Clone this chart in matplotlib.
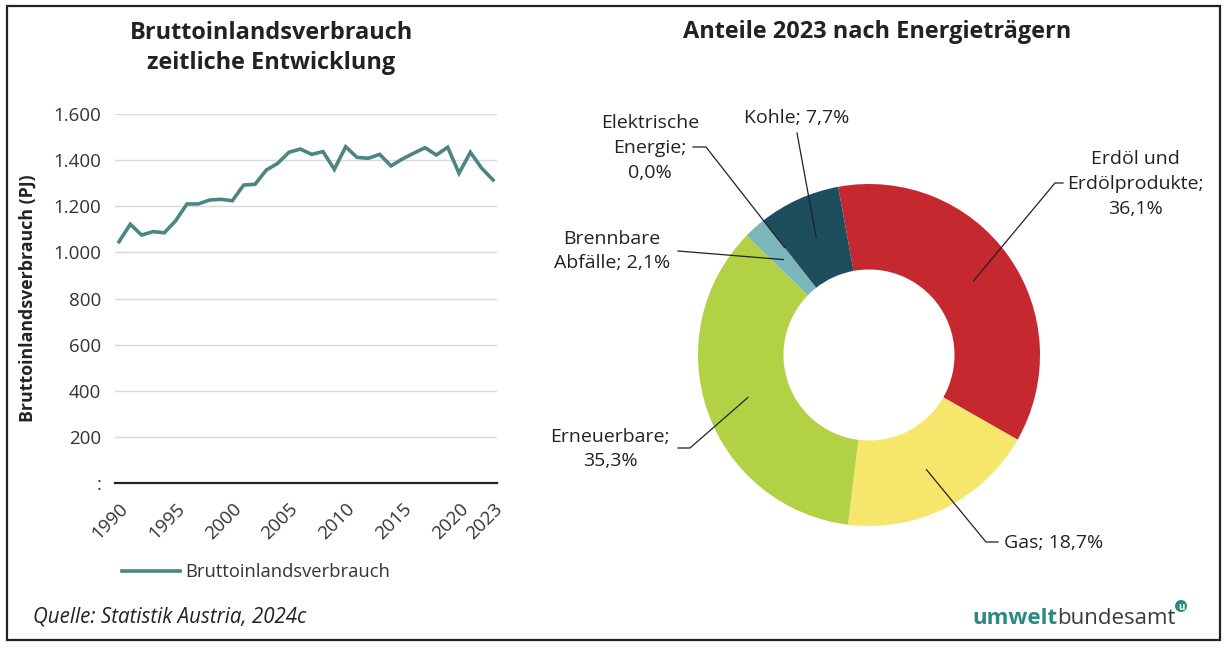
import numpy as np
import matplotlib.pyplot as plt
from matplotlib.patches import Rectangle, Ellipse

plt.rcParams['font.family'] = ['Open Sans', 'DejaVu Sans']

# Bruttoinlandsverbrauch (PJ), 1990-2023
years = list(range(1990, 2024))
verbrauch = [1046, 1122, 1075, 1090, 1085, 1137, 1210, 1210, 1227, 1230,
             1224, 1292, 1295, 1357, 1386, 1434, 1448, 1425, 1437, 1360,
             1458, 1412, 1408, 1425, 1375, 1405, 1430, 1454, 1422, 1456,
             1343, 1434, 1365, 1314]
xticks = [1990, 1995, 2000, 2005, 2010, 2015, 2020, 2023]
yticks = [0, 200, 400, 600, 800, 1000, 1200, 1400, 1600]
ylabels = [':', '200', '400', '600', '800', '1.000', '1.200', '1.400', '1.600']

# Anteile 2023 (%)
traeger = ['Erdöl und\nErdölprodukte;\n36,1%', 'Gas; 18,7%', 'Erneuerbare;\n35,3%',
           'Brennbare\nAbfälle; 2,1%', 'Elektrische\nEnergie;\n0,0%', 'Kohle; 7,7%']
anteile = [36.1, 18.7, 35.3, 2.1, 0.0, 7.7]
farben = ['#c5282f', '#f6e66c', '#b3d145', '#7ab6ba', '#5f9ea0', '#1e4d5e']

W, H = 1225, 648
fig = plt.figure(figsize=(W / 100, H / 100), dpi=100)

# frame
fig.patches.append(Rectangle((7 / W, 1 - 640 / H), 1213 / W, 634 / H, transform=fig.transFigure,
                             fill=False, edgecolor='#222222', linewidth=1.6))

# ---- line chart
ax = fig.add_axes([115 / W, 1 - 483 / H, 382 / W, 369 / H])
line, = ax.plot(years, verbrauch, color='#4d8680', linewidth=2.6, solid_joinstyle='miter')
ax.set_xlim(1989.65, 2023.35)
ax.set_ylim(0, 1600)
ax.set_yticks(yticks)
ax.set_yticklabels(ylabels, fontsize=13.5, color='#333333')
ax.set_xticks(xticks)
ax.set_xticklabels([str(t) for t in xticks], rotation=45, ha='right', rotation_mode='anchor',
                   fontsize=13.5, color='#333333')
ax.tick_params(length=0, pad=10)
ax.tick_params(axis='x', pad=12)
ax.grid(axis='y', color='#d9d9d9', linewidth=1)
ax.set_axisbelow(True)
for s in ['top', 'right', 'left']:
    ax.spines[s].set_visible(False)
ax.spines['bottom'].set_color('#222222')
ax.spines['bottom'].set_linewidth(1.6)
ax.set_ylabel('Bruttoinlandsverbrauch (PJ)', fontsize=12.8, fontweight='bold', color='#222222')
ax.yaxis.set_label_coords(-0.205, 0.5)
fig.text(271 / W, 1 - 48 / H, 'Bruttoinlandsverbrauch\nzeitliche Entwicklung', ha='center', va='center',
         fontsize=16.9, fontweight='bold', color='#222222', linespacing=1.3)
fig.legend([line], ['Bruttoinlandsverbrauch'], loc='center left', bbox_to_anchor=(105 / W, 1 - 572 / H),
           frameon=False, fontsize=13.2, handlelength=3.2, handletextpad=0.3, labelcolor='#333333')

# ---- donut
cx, cy, R = 869, 355, 171
pa = fig.add_axes([520 / W, 1 - 600 / H, 700 / W, 520 / H])
wedges, _ = pa.pie(anteile, colors=farben, startangle=100.4, counterclock=False, radius=1,
                   wedgeprops=dict(width=0.5, edgecolor='none'))
pa.set_xlim((520 - cx) / R, (1220 - cx) / R)
pa.set_ylim((cy - 600) / R, (cy - 80) / R)
pa.set_aspect('auto')
pa.axis('off')


def d(px, py):
    return (px - cx) / R, (cy - py) / R


def mid(w, r=0.75):
    a = np.deg2rad((w.theta1 + w.theta2) / 2)
    return r * np.cos(a), r * np.sin(a)


# label text position (pixels), alignment, leader start pixels
labels = [
    ((1135, 184), 'center', [(1063, 183), (1055, 183)]),
    ((1004, 543), 'left', [(998, 542), (986, 542)]),
    ((610, 449), 'center', [(678, 448), (690, 448)]),
    ((612, 251), 'center', [(678, 251)]),
    ((650, 148), 'center', [(693, 147), (706, 147)]),
    ((797, 118), 'center', [(797, 133)]),
]
for w, txt, (pos, ha, pts) in zip(wedges, traeger, labels):
    tx, ty = d(*pos)
    pa.text(tx, ty, txt, ha=ha, va='center', fontsize=14, color='#222222', linespacing=1.5)
    xs = [d(*p)[0] for p in pts]
    ys = [d(*p)[1] for p in pts]
    mx, my = mid(w, 0.8 if w.theta1 == w.theta2 else 0.75)
    pa.plot(xs + [mx], ys + [my], color='#222222', linewidth=0.9)

fig.text(877 / W, 1 - 32 / H, 'Anteile 2023 nach Energieträgern', ha='center', va='center',
         fontsize=16.9, fontweight='bold', color='#222222')

# ---- footer
fig.text(33 / W, 1 - 617 / H, 'Quelle: Statistik Austria, 2024c', ha='left', va='center',
         fontsize=14.8, style='italic', color='#222222')
t1 = fig.text(972 / W, 1 - 624 / H, 'umwelt', ha='left', va='baseline', fontsize=16,
              fontweight='bold', color='#2b8a7e')
fig.add_artist(plt.Annotation('bundesamt', xy=(1, 0), xycoords=t1, xytext=(0, 0),
                              textcoords='offset points', ha='left', va='bottom',
                              fontsize=16, color='#3a3a3a'))
fig.patches.append(Ellipse((1181 / W, 1 - 606 / H), 12 / W, 12 / H, transform=fig.transFigure,
                           facecolor='#2b8a7e', edgecolor='none'))
fig.text(1181 / W, 1 - 607 / H, 'u', ha='center', va='center', fontsize=7, fontweight='bold', color='white')

fig.savefig('out.png', dpi=100)
